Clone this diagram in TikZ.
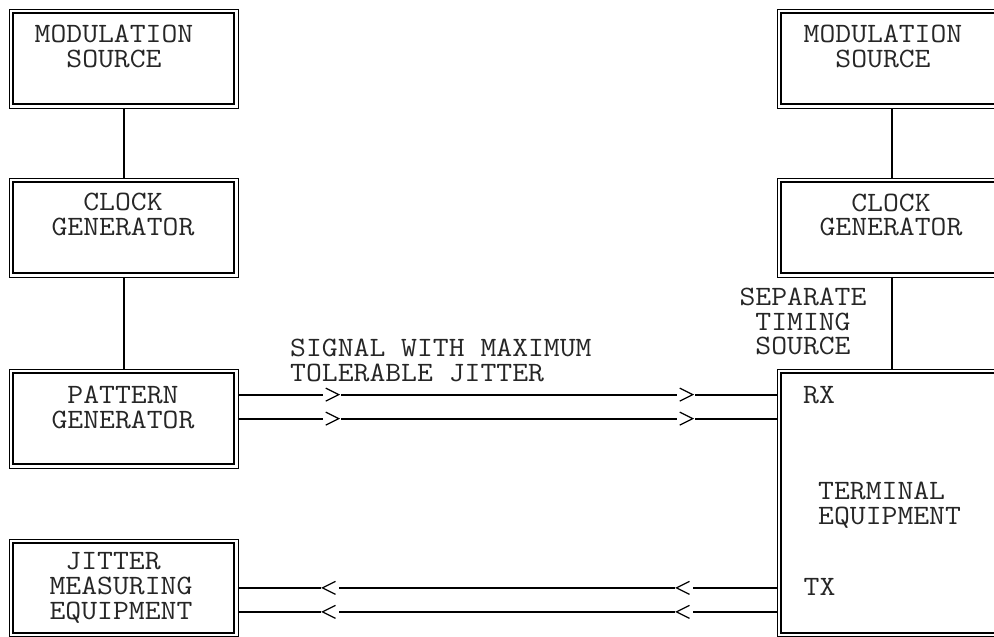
\documentclass[tikz,border=0pt]{standalone}
\usepackage{fontspec}
\usepackage{graphicx}
\usetikzlibrary{decorations.markings}
\newcommand{\chevmark}{%
  \fill[white] (0pt,-2.5pt) rectangle (18pt,2.5pt);
  \draw[line width=1.2pt] (3pt,6.5pt) -- (16pt,0pt) -- (3pt,-6.5pt);}
\newcommand{\diagfont}{\ttfamily\fontsize{28}{24}\selectfont}
\newcommand{\wtxt}[2][c]{\scalebox{1.1}[1]{\begin{tabular}{@{}#1@{}}#2\end{tabular}}}
\tikzset{
  dbox/.style={draw, line width=1.2pt, minimum width=229pt, minimum height=99pt,
    anchor=north west, inner sep=0pt,
    path picture={\draw[line width=2.2pt]
      ([shift={(4pt,-4pt)}]path picture bounding box.north west) rectangle
      ([shift={(-4pt,4pt)}]path picture bounding box.south east);}},
  lbl/.style={font=\diagfont, text=black!85, inner sep=0pt},
  lbll/.style={lbl, anchor=west},
  wire/.style={line width=2pt},
  sig/.style={line width=2pt, postaction={decorate},
    decoration={markings,
      mark=at position 84pt with {\chevmark},
      mark=at position 438pt with {\chevmark}}},
}
\begin{document}
\begin{tikzpicture}[x=1pt,y=-1pt]
\useasboundingbox (0,0) rectangle (994,637);
\clip (0,0) rectangle (994,637);
% left column
\node[dbox] (ms1) at (8.5,8.5) {};
\node[dbox] (cg1) at (8.5,177.5) {};
\node[dbox] (pg) at (8.5,368.5) {};
\node[dbox, minimum height=97.5pt] (jm) at (8.5,538.5) {};
% right column
\node[dbox] (ms2) at (776.5,8.5) {};
\node[dbox] (cg2) at (776.5,177.5) {};
\node[dbox, minimum height=267.5pt] (te) at (776.5,368.5) {};
% texts
\node[lbl] (tms1) at (114,50) {\wtxt{MODULATION\\SOURCE}};
\node[lbl] (tcg1) at (123,218) {\wtxt{CLOCK\\GENERATOR}};
\node[lbl] (tpg) at (123,410.5) {\wtxt{PATTERN\\GENERATOR}};
\node[lbl] (tjm) at (121,589.5) {\wtxt{JITTER\hphantom{X}\\MEASURING\\EQUIPMENT}};
\node[lbl] (tms2) at (883,50) {\wtxt{MODULATION\\SOURCE}};
\node[lbl] (tcg2) at (891,218.5) {\wtxt{CLOCK\\GENERATOR}};
\node[lbl] (tsep) at (803,325) {\wtxt{SEPARATE\\TIMING\\SOURCE}};
\node[lbl] (trx) at (819,398.5) {\wtxt{RX}};
\node[lbl] (ttx) at (819.5,590.5) {\wtxt{TX}};
\node[lbll] (tte) at (818,507) {\wtxt[l]{TERMINAL\\EQUIPMENT}};
\node[lbll] (tsig) at (290,363.5) {\wtxt[l]{SIGNAL WITH MAXIMUM\\TOLERABLE JITTER}};
% vertical connectors
\draw[wire] (ms1.south) -- (cg1.north);
\draw[wire] (cg1.south) -- (pg.north);
\draw[wire] (ms2.south) -- (cg2.north);
\draw[wire] (cg2.south) -- (cg2.south |- te.north);
% signal lines
\coordinate (a1) at ([yshift=24pt]pg.east);
\coordinate (a2) at (pg.east);
\coordinate (b1) at (jm.east);
\coordinate (b2) at ([yshift=-24pt]jm.east);
\draw[sig] (a1) -- (a1 -| te.west);
\draw[sig] (a2) -- (a2 -| te.west);
\draw[sig] (b1 -| te.west) -- (b1);
\draw[sig] (b2 -| te.west) -- (b2);
\end{tikzpicture}
\end{document}
